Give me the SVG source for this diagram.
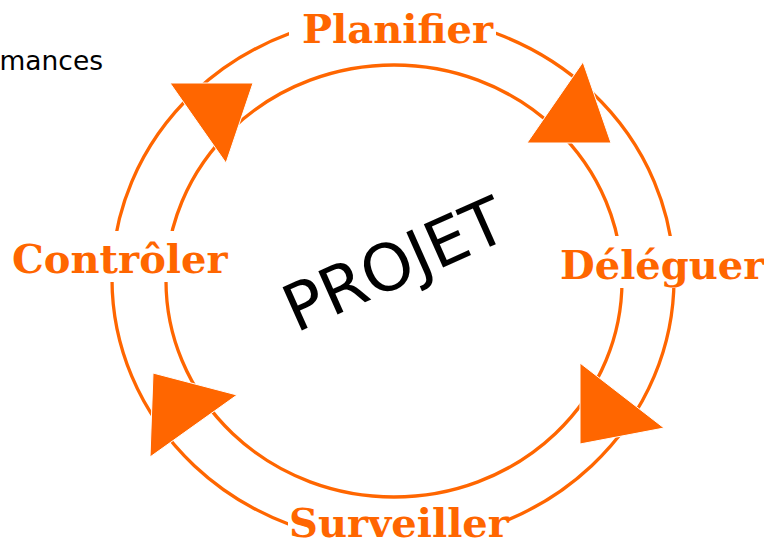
<svg xmlns="http://www.w3.org/2000/svg" width="764" height="546" viewBox="0 0 764 546">
<style>
.ring{fill:none;stroke:#FF6600;stroke-width:3.3}
.tri{fill:#FF6600;stroke:#FFFFFF;stroke-width:1}
.lbl{font-family:"DejaVu Serif","Liberation Serif",serif;font-weight:bold;font-size:40px;fill:#FF6600}
.bg{fill:#FFFFFF}
</style>
<rect width="764" height="546" fill="#FFFFFF"/>
<text x="103" y="70" text-anchor="end" font-family="DejaVu Sans, sans-serif" font-size="26.5px" fill="#000000">mances</text>
<g id="connectors">
<ellipse class="ring" cx="393" cy="279" rx="281" ry="264"/>
<ellipse class="ring" cx="394" cy="281" rx="228" ry="216"/>
<polygon class="tri" points="170,83 253,83 226,163"/>
<polygon class="tri" points="583,62 611,143 527,143"/>
<polygon class="tri" points="580,363 664,428 580,444"/>
<polygon class="tri" points="153,373 237,395 150,457"/>
</g>
<g id="planifier">
<rect class="bg" x="289" y="8" width="207" height="44"/>
<text class="lbl" x="302" y="43">Planifier</text>
</g>
<g id="deleguer">
<rect class="bg" x="556" y="236" width="204" height="52"/>
<text class="lbl" x="560" y="279">Déléguer</text>
</g>
<g id="surveiller">
<rect class="bg" x="288" y="503" width="219" height="43"/>
<text class="lbl" x="289" y="536.5">Surveiller</text>
</g>
<g id="controler">
<rect class="bg" x="8" y="231" width="218" height="51"/>
<text class="lbl" x="12" y="273">Contrôler</text>
</g>
<g id="projet">
<text x="0" y="0" transform="translate(296,333) rotate(-24)" font-family="DejaVu Sans, sans-serif" font-size="65px" fill="#000000">PROJET</text>
</g>
</svg>
